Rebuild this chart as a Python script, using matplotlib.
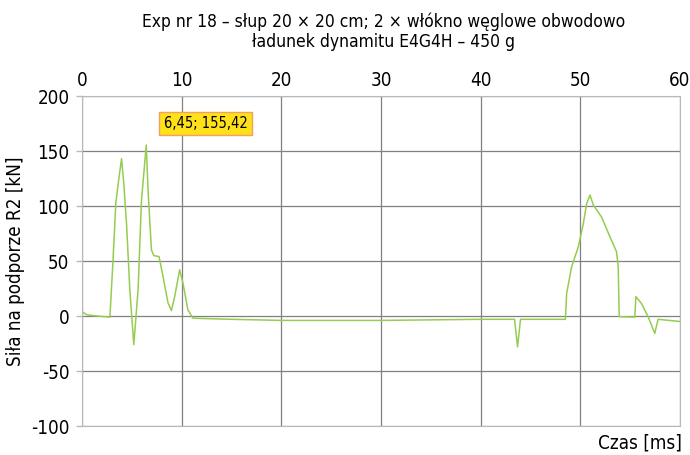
import matplotlib.pyplot as plt

# Dane: czas [ms] i siła [kN]
czas = [0.0, 0.5, 1.5, 2.8, 3.1, 3.4, 3.7, 3.97, 4.2, 4.47, 4.8, 5.2, 5.63, 5.97,
        6.45, 6.63, 6.97, 7.2, 7.73, 8.13, 8.63, 8.97, 9.3, 9.8, 10.13, 10.63,
        11.13, 15.0, 20.0, 30.0, 40.0, 43.4, 43.7, 44.0, 48.5, 48.63, 49.13,
        49.8, 50.3, 50.63, 50.97, 51.3, 52.13, 52.97, 53.63, 53.8, 53.9, 55.47,
        55.57, 56.13, 56.8, 57.47, 57.8, 60.0]
sila = [4, 1, 0, -1, 48, 103, 125, 143, 120, 84, 24, -26, 24, 105,
        155.42, 114, 60, 55, 54, 36, 12, 5, 17.6, 42, 30, 5.5,
        -2, -3, -4, -4, -3, -3, -28, -3, -3, 20.6, 44.8,
        63, 84, 102, 110, 101, 90, 72, 58.5, 45, -0.6, -1,
        17.6, 11.5, -0.6, -15.8, -3, -5]

x_ticks = [0, 10, 20, 30, 40, 50, 60]
y_ticks = [-100, -50, 0, 50, 100, 150, 200]

etykieta_t = 6.45
etykieta_f = 155.42
etykieta = '6,45; 155,42'

tytul = 'Exp nr 18 – słup 20 × 20 cm; 2 × włókno węglowe obwodowo\nładunek dynamitu E4G4H – 450 g'

plt.rcParams['font.family'] = ['DejaVu Sans']
plt.rcParams['font.stretch'] = 'condensed'
plt.rcParams['axes.unicode_minus'] = False

fig = plt.figure(figsize=(6.9, 4.55), dpi=100)
ax = fig.add_axes([0.1188, 0.0637, 0.8667, 0.7253])

ax.plot(czas, sila, color='#96cc50', linewidth=1.1)

ax.set_xlim(0, 60)
ax.set_ylim(-100, 200)
ax.set_xticks(x_ticks)
ax.set_yticks(y_ticks)
ax.xaxis.tick_top()
ax.tick_params(axis='x', length=0, labelsize=13.5, pad=4)
ax.tick_params(axis='y', length=4, width=1, color='#b8b8b8', labelsize=13.5, pad=5)
ax.grid(True, color='#808080', linewidth=0.9)
for s in ax.spines.values():
    s.set_color('#b8b8b8')

ax.set_ylabel('Siła na podporze R2 [kN]', fontsize=13.5, labelpad=4)
fig.text(0.988, 0.005, 'Czas [ms]', ha='right', va='bottom', fontsize=13.5)
fig.text(0.556, 0.972, tytul, ha='center', va='top', fontsize=12.5, linespacing=1.1)

ax.annotate(etykieta, xy=(etykieta_t, etykieta_f), xytext=(12.4, 175),
            ha='center', va='center', fontsize=10.5,
            bbox=dict(boxstyle='square,pad=0.3', fc='#ffe11a', ec='#f0a060', lw=1))

plt.savefig('out.png', dpi=100)
